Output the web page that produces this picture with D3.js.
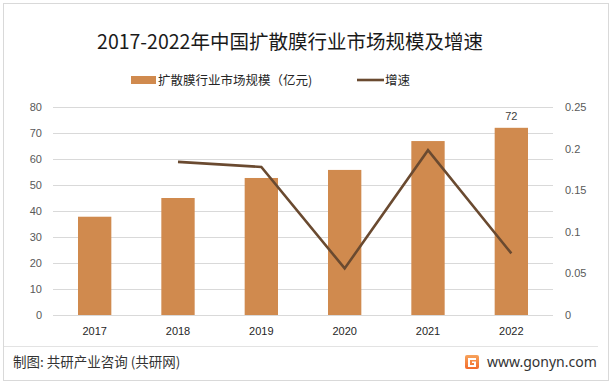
<!DOCTYPE html>
<html><head><meta charset="utf-8">
<script src="https://cdn.jsdelivr.net/npm/d3@7/dist/d3.min.js"></script>
<style>body{margin:0;background:#fff;}svg{display:block;font-family:"Noto Sans CJK SC","Noto Sans",sans-serif;}</style>
</head><body>
<svg id="chart" width="613" height="385"></svg>
<script>
const categories = ["2017","2018","2019","2020","2021","2022"];
const marketSize = [37.8, 45.0, 52.7, 55.8, 66.9, 72];
const growth = [null, 0.184, 0.178, 0.056, 0.198, 0.074];
const leftTicks = [0,10,20,30,40,50,60,70,80];
const rightTicks = [0,0.05,0.1,0.15,0.2,0.25];
const title = "2017-2022年中国扩散膜行业市场规模及增速";
const legendBar = "扩散膜行业市场规模（亿元)";
const legendLine = "增速";
const footerLeft = "制图: 共研产业咨询 (共研网)";
const footerRight = "www.gonyn.com";

const svg = d3.select("#chart");
const plot = {l:53, r:553, t:107, b:315};

// outer border
svg.append("rect").attr("x",3.5).attr("y",3.5).attr("width",605).attr("height",377)
  .attr("fill","#fff").attr("stroke","#d9d9d9").attr("stroke-width",1);

const x = d3.scaleBand().domain(categories).range([plot.l, plot.r]).paddingInner(0.6).paddingOuter(0.3);
const yL = d3.scaleLinear().domain([0,80]).range([plot.b, plot.t]);
const yR = d3.scaleLinear().domain([0,0.25]).range([plot.b, plot.t]);

// gridlines
svg.append("g").selectAll("line").data(leftTicks).join("line")
  .attr("x1",plot.l).attr("x2",plot.r)
  .attr("y1",d=>Math.round(yL(d))+0.5).attr("y2",d=>Math.round(yL(d))+0.5)
  .attr("stroke","#d9d9d9").attr("stroke-width",1);

// left axis
const axL = svg.append("g").attr("transform",`translate(${plot.l},0)`)
  .call(d3.axisLeft(yL).tickValues(leftTicks).tickSize(0).tickPadding(11).tickFormat(d3.format("d")));
axL.select(".domain").remove();
axL.selectAll("text").attr("fill","#595959").attr("font-size",11).attr("font-family","'Liberation Sans','DejaVu Sans',sans-serif");

// right axis
const axR = svg.append("g").attr("transform",`translate(${plot.r},0)`)
  .call(d3.axisRight(yR).tickValues(rightTicks).tickSize(0).tickPadding(12).tickFormat(d=>String(+d.toFixed(2))));
axR.select(".domain").remove();
axR.selectAll("text").attr("fill","#595959").attr("font-size",11).attr("font-family","'Liberation Sans','DejaVu Sans',sans-serif");

// x axis labels
const axX = svg.append("g").attr("transform",`translate(0,${plot.b})`)
  .call(d3.axisBottom(x).tickSize(0).tickPadding(12));
axX.select(".domain").remove();
axX.selectAll("text").attr("fill","#262626").attr("font-size",11).attr("font-family","'Liberation Sans','DejaVu Sans',sans-serif");

// bars
svg.append("g").selectAll("rect").data(marketSize).join("rect")
  .attr("x",(d,i)=>x(categories[i])).attr("width",x.bandwidth())
  .attr("y",d=>yL(d)).attr("height",d=>yL(0)-yL(d))
  .attr("fill","#D08A4E");

// data label on last bar
svg.append("text").attr("x",x(categories[5])+x.bandwidth()/2).attr("y",yL(marketSize[5])-8)
  .attr("text-anchor","middle").attr("font-size",11).attr("fill","#404040")
  .attr("font-family","'Liberation Sans','DejaVu Sans',sans-serif").text(marketSize[5]);

// line
const lineData = categories.map((c,i)=>({c, v:growth[i]})).filter(d=>d.v!==null);
svg.append("path").datum(lineData)
  .attr("d", d3.line().x(d=>x(d.c)+x.bandwidth()/2).y(d=>yR(d.v)))
  .attr("fill","none").attr("stroke","#6A4A30").attr("stroke-width",2.6).attr("stroke-linejoin","miter");

// title
svg.append("text").attr("x",290).attr("y",49).attr("text-anchor","middle")
  .attr("font-size",19.5).attr("fill","#1a1a1a").text(title);

// legend
svg.append("rect").attr("x",131).attr("y",76).attr("width",25).attr("height",8).attr("fill","#D08A4E");
svg.append("text").attr("x",158).attr("y",84.5).attr("font-size",12.5).attr("fill","#262626").text(legendBar);
svg.append("line").attr("x1",357).attr("x2",384).attr("y1",80).attr("y2",80).attr("stroke","#6A4A30").attr("stroke-width",2.6);
svg.append("text").attr("x",385).attr("y",84.5).attr("font-size",12.5).attr("fill","#262626").text(legendLine);

// footer separator
svg.append("line").attr("x1",4).attr("x2",598).attr("y1",346.5).attr("y2",346.5).attr("stroke","#e3e3e3");
svg.append("text").attr("x",13).attr("y",367).attr("font-size",13.5).attr("fill","#333").text(footerLeft);

// logo
const defs = svg.append("defs");
const gr = defs.append("linearGradient").attr("id","lg").attr("x1","0").attr("y1","0").attr("x2","0").attr("y2","1");
gr.append("stop").attr("offset","0").attr("stop-color","#F7A35C");
gr.append("stop").attr("offset","1").attr("stop-color","#F26B2B");
svg.append("rect").attr("x",465).attr("y",355).attr("width",14).attr("height",14).attr("rx",2).attr("fill","url(#lg)");
svg.append("path").attr("d","M468 358 h8 v2 h-6 v5 h4 v-2 h-2 v-1.5 h4 v5.5 h-8 z").attr("fill","#fff");
svg.append("text").attr("x",487).attr("y",367).attr("font-size",14).attr("fill","#333")
  .attr("font-family","'Noto Sans','DejaVu Sans',sans-serif").text(footerRight);
</script>
</body></html>
